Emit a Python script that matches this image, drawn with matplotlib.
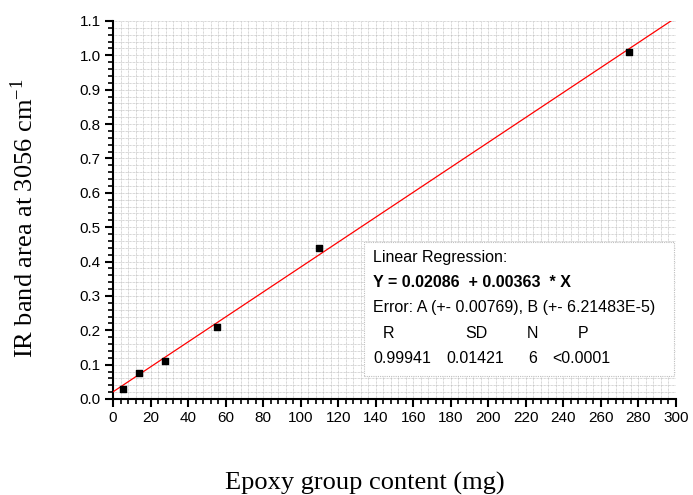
import numpy as np
import matplotlib.pyplot as plt
from matplotlib.ticker import MultipleLocator

# ---------------- DATA ----------------
epoxy_mg = [5.3, 13.9, 27.7, 55.4, 109.8, 275.0]
band_area = [0.029, 0.076, 0.110, 0.210, 0.440, 1.010]
intercept = 0.02086
slope = 0.00363
fit_x = np.array([0, 300])

fit_title = "Linear Regression:"
fit_equation = "Y = 0.02086  + 0.00363  * X"
fit_error = "Error: A (+- 0.00769), B (+- 6.21483E-5)"
stat_names = ["R", "SD", "N", "P"]
stat_values = ["0.99941", "0.01421", "6", "<0.0001"]

plt.rcParams["mathtext.fontset"] = "stix"

# ---------------- PLOT ----------------
fig = plt.figure(figsize=(6.93, 4.95), dpi=100)
ax = fig.add_axes([113 / 693, 96 / 495, 563 / 693, 378 / 495])

ax.plot(fit_x, intercept + slope * fit_x, color="red", lw=0.9, zorder=3)
ax.scatter(epoxy_mg, band_area, marker="s", s=22, color="black", zorder=4)

ax.set_xlim(0, 300)
ax.set_ylim(0, 1.1)
ax.xaxis.set_major_locator(MultipleLocator(20))
ax.xaxis.set_minor_locator(MultipleLocator(4))
ax.yaxis.set_major_locator(MultipleLocator(0.1))
ax.yaxis.set_minor_locator(MultipleLocator(0.02))
ax.yaxis.set_major_formatter(plt.FuncFormatter(lambda v, p: f"{v:.1f}"))

ax.grid(which="both", color="#b0b0b0", linestyle=(0, (1, 1)), lw=0.5)
ax.set_axisbelow(True)

for side in ["top", "right"]:
    ax.spines[side].set_visible(False)
ax.spines["left"].set_linewidth(1.5)
ax.spines["bottom"].set_linewidth(1.5)

ax.tick_params(which="major", direction="out", length=6, width=1.5,
               labelsize=11, pad=3)
ax.tick_params(which="minor", direction="out", length=3.5, width=1.2)
for lbl in ax.get_xticklabels() + ax.get_yticklabels():
    lbl.set_fontfamily("Liberation Sans")

# axis titles placed in figure pixels
fig.text(365 / 693, 1 - 483 / 495, "Epoxy group content (mg)",
         fontfamily="Liberation Serif", fontsize=19, ha="center", va="center")
fig.text(24 / 693, 1 - 218 / 495, "IR band area at 3056 cm$^{\\mathregular{-1}}$",
         fontfamily="Liberation Serif", fontsize=19, rotation=90,
         ha="center", va="center")

# regression result box
box = plt.Rectangle((134, 0.067), 165, 0.39, transform=ax.transData,
                    facecolor="white", edgecolor="#c0c0c0", lw=0.8,
                    linestyle=(0, (1, 1)), zorder=5)
ax.add_patch(box)
txt_kw = dict(fontsize=11.5, fontfamily="Liberation Sans", va="center",
              ha="left", zorder=6)
ax.text(138.5, 0.413, fit_title, **txt_kw)
ax.text(138.5, 0.339, fit_equation, fontweight="bold", **txt_kw)
ax.text(138.5, 0.266, fit_error, **txt_kw)
for x, name in zip([143.5, 187.5, 220.6, 247.7], stat_names):
    ax.text(x, 0.192, name, **txt_kw)
for x, val in zip([138.5, 177.4, 221.1, 233.9], stat_values):
    ax.text(x, 0.119, val, **txt_kw)

fig.savefig("out.png", dpi=100)
